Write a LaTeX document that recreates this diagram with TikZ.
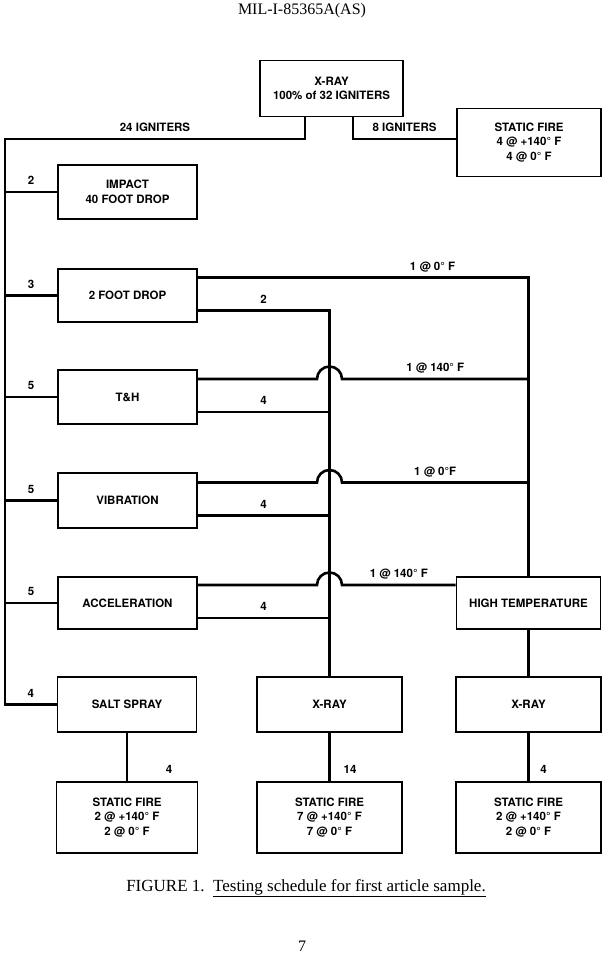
\documentclass[tikz,border=0pt]{standalone}
\usepackage{fontspec}
\setmainfont{Liberation Serif}
\setsansfont{TeX Gyre Heros}

\begin{document}
\begin{tikzpicture}[x=1pt, y=-1pt,
  box/.style={draw, line width=1.6pt, minimum width=#1, minimum height=54pt, inner sep=1pt, align=center, font=\fontsize{11.5}{14.5}\selectfont\sffamily\bfseries},
  box/.default=139pt,
  link/.style={line width=2.6pt},
  lbl/.style={font=\fontsize{11.5}{13}\selectfont\sffamily\bfseries, inner sep=1pt, text depth=0pt, above=5pt}]
\useasboundingbox (0,0) rectangle (603,955);

% page head
\node[font=\fontsize{16}{18}\selectfont] (head) at (302,11) {MIL-I-85365A(AS)};

% x-ray of all igniters
\node[box=143pt, minimum height=56pt] (xr0) at (331.5,88.5) {X-RAY\\100\% of 32 IGNITERS};
\node[box=144pt, minimum height=68pt] (sf0) at (529,142.5) {STATIC FIRE\\4 @ +140° F\\4 @ 0° F};

% left column
\node[box] (imp) at (127.5,192) {IMPACT\\40 FOOT DROP};
\node[box, minimum height=53pt] (fd) at (127.5,295.5) {2 FOOT DROP};
\node[box] (th) at (127.5,397) {T\&H};
\node[box, minimum height=55pt] (vib) at (127.5,500.5) {VIBRATION};
\node[box, minimum height=52pt] (acc) at (127.5,603) {ACCELERATION};
\node[box, minimum height=55pt] (ss) at (127,704.5) {SALT SPRAY};

% right side
\node[box=144pt, minimum height=52pt] (ht) at (528.5,603) {HIGH TEMPERATURE};
\node[box=145pt, minimum height=55pt] (xr1) at (329.5,704.5) {X-RAY};
\node[box=145pt, minimum height=55pt] (xr2) at (528.5,704.5) {X-RAY};

% static fire row
\node[box=141pt, minimum height=71pt] (sf1) at (127,817.5) {STATIC FIRE\\2 @ +140° F\\2 @ 0° F};
\node[box=145pt, minimum height=71pt] (sf2) at (329.5,817.5) {STATIC FIRE\\7 @ +140° F\\7 @ 0° F};
\node[box=145pt, minimum height=71pt] (sf3) at (528.5,817.5) {STATIC FIRE\\2 @ +140° F\\2 @ 0° F};

% split of the 32 igniters
\coordinate (top) at (5,139);
\draw[link] ([xshift=-26.5pt]xr0.south) |- node[lbl, pos=0.75]{24 IGNITERS} (top) |- node[lbl, pos=0.75]{4} (ss.west);
\draw[link] ([xshift=21.5pt]xr0.south) |- node[lbl, pos=0.75]{8 IGNITERS} (sf0.west |- top);

\draw[link] (top |- imp.west) -- node[lbl]{2} (imp.west);
\draw[link] (top |- fd.west) -- node[lbl]{3} (fd.west);
\draw[link] (top |- th.west) -- node[lbl]{5} (th.west);
\draw[link] (top |- vib.west) -- node[lbl]{5} (vib.west);
\draw[link] (top |- acc.west) -- node[lbl]{5} (acc.west);

% outputs of each test
\coordinate (hopL) at ([xshift=-12.5pt]xr1.north);
\coordinate (fdU) at ([yshift=18pt]fd.east);
\coordinate (fdL) at ([yshift=-15pt]fd.east);
\coordinate (thU) at ([yshift=18pt]th.east);
\coordinate (thL) at ([yshift=-15pt]th.east);
\coordinate (vibU) at ([yshift=18pt]vib.east);
\coordinate (vibL) at ([yshift=-15pt]vib.east);
\coordinate (accU) at ([yshift=18pt]acc.east);
\coordinate (accL) at ([yshift=-15pt]acc.east);

\draw[link] (fdU) -| node[lbl, pos=0.355]{1 @ 0° F} (ht.north);
\draw[link] (fdL) -| node[lbl, pos=0.25]{2} (xr1.north);

\draw[link] (thU) -- (thU -| hopL) arc[start angle=180, end angle=0, radius=12.5pt] -- node[lbl]{1 @ 140° F} (thU -| ht.north);
\draw[link] (thL) -- node[lbl]{4} (thL -| xr1.north);

\draw[link] (vibU) -- (vibU -| hopL) arc[start angle=180, end angle=0, radius=12.5pt] -- node[lbl]{1 @ 0°F} (vibU -| ht.north);
\draw[link] (vibL) -- node[lbl]{4} (vibL -| xr1.north);

\draw[link] (accU) -- (accU -| hopL) arc[start angle=180, end angle=0, radius=12.5pt] -- node[lbl]{1 @ 140° F} (accU -| ht.west);
\draw[link] (accL) -- node[lbl]{4} (accL -| xr1.north);

% down to the static fire
\draw[link] (ht.south) -- (xr2.north);
\draw[link] (ss.south) -- node[lbl, pos=1, xshift=42pt]{4} (sf1.north);
\draw[link] (xr1.south) -- node[lbl, pos=1, xshift=20.5pt]{14} (sf2.north);
\draw[link] (xr2.south) -- node[lbl, pos=1, xshift=15pt]{4} (sf3.north);

% caption and page number
\node[font=\fontsize{17}{20}\selectfont] (cap) at (306,888) {FIGURE 1.\ \ \underline{Testing schedule for first article sample.}};
\node[font=\fontsize{16}{18}\selectfont] (page) at (302,946) {7};
\end{tikzpicture}
\end{document}
